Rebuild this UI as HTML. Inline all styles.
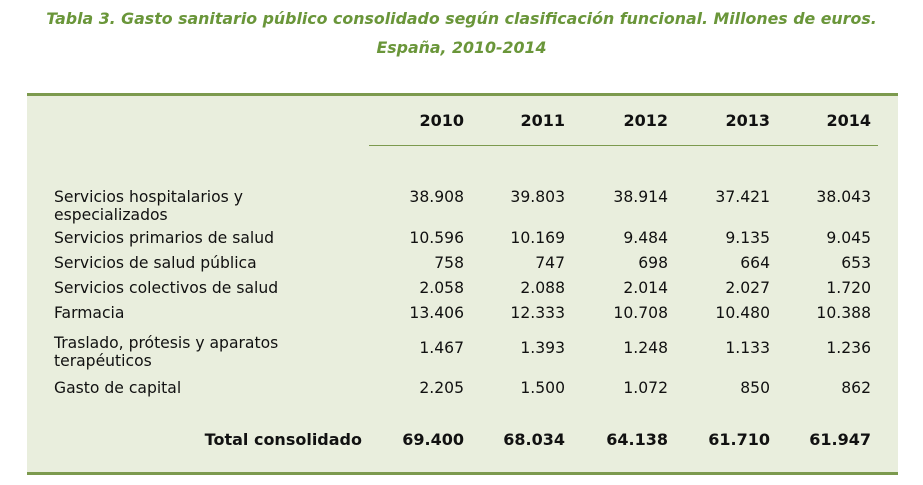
<!DOCTYPE html>
<html><head><meta charset="utf-8"><style>
body{margin:0;width:923px;height:485px;background:#fff;position:relative;font-family:"DejaVu Sans","Liberation Sans",sans-serif;overflow:hidden}
.t{position:absolute;left:0;width:923px;text-align:center;color:#6a963a;font-weight:bold;font-style:italic;font-size:15.8px;white-space:nowrap}
#box{position:absolute;left:27px;top:93px;width:871px;height:376px;background:#e9eedd;border-top:3px solid #7c9a4e;border-bottom:3px solid #7c9a4e}
.a{position:absolute;white-space:nowrap;font-size:15.6px;color:#111;line-height:18px}
.r{text-align:right;width:120px}
.b{font-weight:bold;font-size:16px}
#hl{position:absolute;left:369px;top:145px;width:509px;height:1px;background:#7c9a4e}
</style></head><body>
<div class="t" style="top:9px">Tabla 3. Gasto sanitario público consolidado según clasificación funcional. Millones de euros.</div>
<div class="t" style="top:38px">España, 2010-2014</div>
<div id="box"></div>
<div id="hl"></div>
<div id="cells"></div>
<script>
const years=["2010","2011","2012","2013","2014"];
const labels=[["Servicios hospitalarios y","especializados"],["Servicios primarios de salud"],["Servicios de salud pública"],["Servicios colectivos de salud"],["Farmacia"],["Traslado, prótesis y aparatos","terapéuticos"],["Gasto de capital"]];
const values=[["38.908","39.803","38.914","37.421","38.043"],["10.596","10.169","9.484","9.135","9.045"],["758","747","698","664","653"],["2.058","2.088","2.014","2.027","1.720"],["13.406","12.333","10.708","10.480","10.388"],["1.467","1.393","1.248","1.133","1.236"],["2.205","1.500","1.072","850","862"]];
const totals=["69.400","68.034","64.138","61.710","61.947"];
const colRight=[464,565,668,770,871];
const rowY=[188,229,254,279,304,339,379];
const c=document.getElementById('cells');
function mk(txt,x,y,cls,right){const d=document.createElement('div');d.className='a '+cls;d.textContent=txt;d.style.top=y+'px';if(right){d.style.left=(x-120)+'px';}else d.style.left=x+'px';c.appendChild(d);return d;}
years.forEach((yr,i)=>{const d=mk(yr,colRight[i],112,'r b',true);

});
labels.forEach((l,i)=>{const two=l.length>1;
const d=mk(l[0],54,rowY[i]-(i==5?5:0),'',false);


if(two){const e=mk(l[1],54,rowY[i]-(i==5?5:0)+18,'',false);

}
values[i].forEach((v,j)=>{const f=mk(v,colRight[j],rowY[i],'r',true);

});});
const tl=mk('Total consolidado',362,431,'r b',true);tl.style.width='220px';tl.style.left='142px';


totals.forEach((v,j)=>{const f=mk(v,colRight[j],431,'r b',true);

});
</script>
</body></html>
